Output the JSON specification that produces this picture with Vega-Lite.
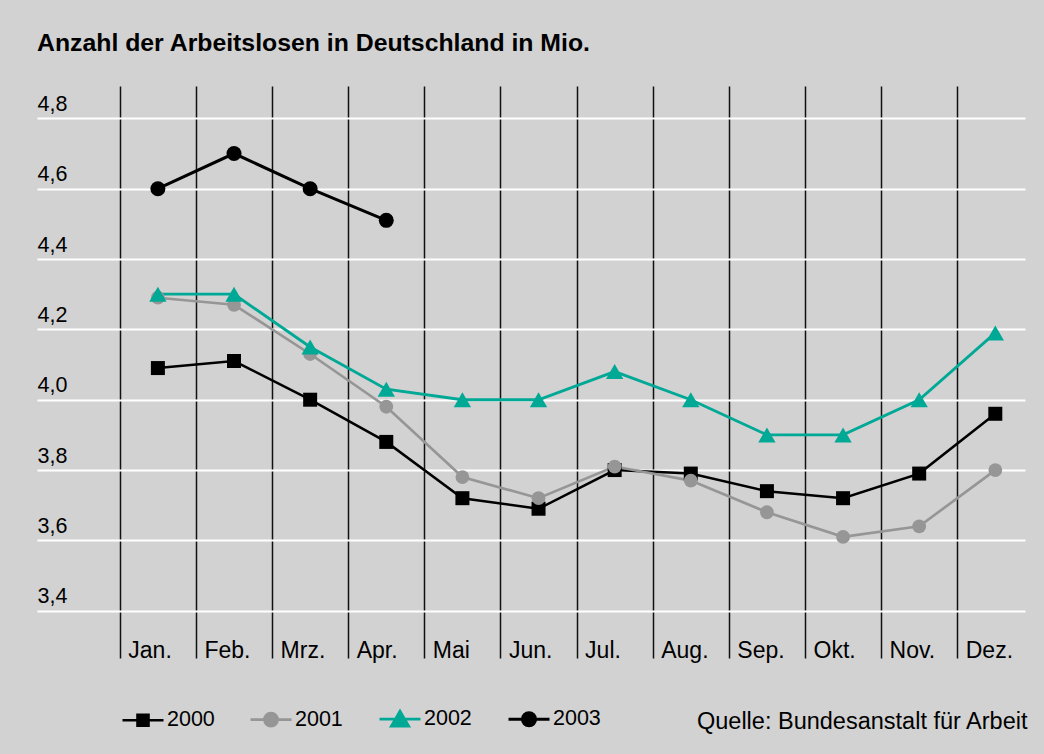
{
  "$schema": "https://vega.github.io/schema/vega-lite/v6.json",
  "width": 988,
  "height": 572,
  "autosize": {"type": "none"},
  "padding": {"left": 37, "top": 86, "right": 19, "bottom": 96},
  "background": "#d2d2d2",
  "title": {
    "text": "Anzahl der Arbeitslosen in Deutschland in Mio.",
    "anchor": "start",
    "frame": "group",
    "font": "Liberation Sans",
    "fontSize": 24.8,
    "fontWeight": "bold",
    "color": "#000000",
    "offset": 30
  },
  "config": {
    "view": {"stroke": null},
    "font": "Liberation Sans"
  },
  "data": {
    "values": [
      {"jahr": "2000", "m": 1, "v": 4.09},
      {"jahr": "2000", "m": 2, "v": 4.11},
      {"jahr": "2000", "m": 3, "v": 4.00},
      {"jahr": "2000", "m": 4, "v": 3.88},
      {"jahr": "2000", "m": 5, "v": 3.72},
      {"jahr": "2000", "m": 6, "v": 3.69},
      {"jahr": "2000", "m": 7, "v": 3.80},
      {"jahr": "2000", "m": 8, "v": 3.79},
      {"jahr": "2000", "m": 9, "v": 3.74},
      {"jahr": "2000", "m": 10, "v": 3.72},
      {"jahr": "2000", "m": 11, "v": 3.79},
      {"jahr": "2000", "m": 12, "v": 3.96},
      {"jahr": "2001", "m": 1, "v": 4.29},
      {"jahr": "2001", "m": 2, "v": 4.27},
      {"jahr": "2001", "m": 3, "v": 4.13},
      {"jahr": "2001", "m": 4, "v": 3.98},
      {"jahr": "2001", "m": 5, "v": 3.78},
      {"jahr": "2001", "m": 6, "v": 3.72},
      {"jahr": "2001", "m": 7, "v": 3.81},
      {"jahr": "2001", "m": 8, "v": 3.77},
      {"jahr": "2001", "m": 9, "v": 3.68},
      {"jahr": "2001", "m": 10, "v": 3.61},
      {"jahr": "2001", "m": 11, "v": 3.64},
      {"jahr": "2001", "m": 12, "v": 3.80},
      {"jahr": "2002", "m": 1, "v": 4.30},
      {"jahr": "2002", "m": 2, "v": 4.30},
      {"jahr": "2002", "m": 3, "v": 4.15},
      {"jahr": "2002", "m": 4, "v": 4.03},
      {"jahr": "2002", "m": 5, "v": 4.00},
      {"jahr": "2002", "m": 6, "v": 4.00},
      {"jahr": "2002", "m": 7, "v": 4.08},
      {"jahr": "2002", "m": 8, "v": 4.00},
      {"jahr": "2002", "m": 9, "v": 3.90},
      {"jahr": "2002", "m": 10, "v": 3.90},
      {"jahr": "2002", "m": 11, "v": 4.00},
      {"jahr": "2002", "m": 12, "v": 4.19},
      {"jahr": "2003", "m": 1, "v": 4.60},
      {"jahr": "2003", "m": 2, "v": 4.70},
      {"jahr": "2003", "m": 3, "v": 4.60},
      {"jahr": "2003", "m": 4, "v": 4.51}
    ]
  },
  "encoding": {
    "x": {
      "field": "m",
      "type": "quantitative",
      "scale": {"domain": [-0.588, 12.39], "nice": false, "zero": false},
      "axis": {
        "values": [0.5, 1.5, 2.5, 3.5, 4.5, 5.5, 6.5, 7.5, 8.5, 9.5, 10.5, 11.5],
        "domain": false,
        "ticks": false,
        "tickSize": 0,
        "grid": true,
        "gridColor": "#111111",
        "gridWidth": 1.5,
        "gridOpacity": 1,
        "labelExpr": "['Jan.','Feb.','Mrz.','Apr.','Mai','Jun.','Jul.','Aug.','Sep.','Okt.','Nov.','Dez.'][floor(datum.value)]",
        "labelAlign": "left",
        "labelBaseline": "alphabetic",
        "labelOffset": 8,
        "labelPadding": -1,
        "labelFlush": false,
        "labelOverlap": false,
        "labelFont": "Liberation Sans",
        "labelFontSize": 23,
        "labelColor": "#000000",
        "title": "Quelle: Bundesanstalt für Arbeit",
        "titleFont": "Liberation Sans",
        "titleFontSize": 23.5,
        "titleFontWeight": "normal",
        "titleColor": "#000000",
        "titleAlign": "right",
        "titleBaseline": "alphabetic",
        "titleAnchor": "end",
        "titleX": 990,
        "titleY": 70
      }
    },
    "y": {
      "field": "v",
      "type": "quantitative",
      "scale": {"domain": [3.2656, 4.892], "nice": false, "zero": false},
      "axis": {
        "values": [3.4, 3.6, 3.8, 4.0, 4.2, 4.4, 4.6, 4.8],
        "domain": false,
        "ticks": false,
        "tickSize": 0,
        "grid": true,
        "gridColor": "#ffffff",
        "gridWidth": 2,
        "gridOpacity": 1,
        "labelExpr": "replace(format(datum.value, '.1f'), '.', ',')",
        "labelAlign": "left",
        "labelBaseline": "alphabetic",
        "labelPadding": 0,
        "labelOffset": -8,
        "labelFlush": false,
        "labelOverlap": false,
        "labelFont": "Liberation Sans",
        "labelFontSize": 21.5,
        "labelColor": "#000000",
        "title": null
      }
    }
  },
  "layer": [
    {
      "mark": {"type": "point", "filled": true, "opacity": 0, "strokeWidth": 2.5},
      "encoding": {
        "fill": {
          "field": "jahr",
          "type": "nominal",
          "scale": {"domain": ["2000", "2001", "2002", "2003"], "range": ["#000000", "#969696", "#00a896", "#000000"]},
          "legend": {
            "title": null,
            "orient": "none",
            "legendX": 84,
            "legendY": 611,
            "direction": "horizontal",
            "padding": 0,
            "labelFont": "Liberation Sans",
            "labelFontSize": 21.5,
            "labelColor": "#000000",
            "labelOffset": 2,
            "columnPadding": 30,
            "symbolSize": 1681,
            "symbolStrokeWidth": 2.5,
            "symbolOpacity": 1
          }
        },
        "stroke": {
          "field": "jahr",
          "type": "nominal",
          "scale": {"domain": ["2000", "2001", "2002", "2003"], "range": ["#000000", "#969696", "#00a896", "#000000"]},
          "legend": {
            "title": null,
            "orient": "none",
            "legendX": 84,
            "legendY": 611,
            "direction": "horizontal",
            "padding": 0,
            "labelFont": "Liberation Sans",
            "labelFontSize": 21.5,
            "labelColor": "#000000",
            "labelOffset": 2,
            "columnPadding": 30,
            "symbolSize": 1681,
            "symbolStrokeWidth": 2.5,
            "symbolOpacity": 1
          }
        },
        "shape": {
          "field": "jahr",
          "type": "nominal",
          "scale": {
            "domain": ["2000", "2001", "2002", "2003"],
            "range": [
              "M-1,0H1M-0.27,-0.27H0.27V0.27H-0.27Z",
              "M-1,0H1M-0.32,0A0.32,0.32,0,1,1,0.32,0A0.32,0.32,0,1,1,-0.32,0Z",
              "M-1,0H1M-0.42,0.34L0,-0.38L0.42,0.34Z",
              "M-1,0H1M-0.32,0A0.32,0.32,0,1,1,0.32,0A0.32,0.32,0,1,1,-0.32,0Z"
            ]
          },
          "legend": {
            "title": null,
            "orient": "none",
            "legendX": 84,
            "legendY": 611,
            "direction": "horizontal",
            "padding": 0,
            "labelFont": "Liberation Sans",
            "labelFontSize": 21.5,
            "labelColor": "#000000",
            "labelOffset": 2,
            "columnPadding": 30,
            "symbolSize": 1681,
            "symbolStrokeWidth": 2.5,
            "symbolOpacity": 1
          }
        }
      }
    },
    {
      "mark": {"type": "line"},
      "encoding": {
        "color": {
          "field": "jahr",
          "type": "nominal",
          "scale": {"domain": ["2000", "2001", "2002", "2003"], "range": ["#000000", "#969696", "#00a896", "#000000"]},
          "legend": null
        },
        "strokeWidth": {
          "field": "jahr",
          "type": "ordinal",
          "scale": {"domain": ["2000", "2001", "2002", "2003"], "range": [2.5, 3, 3, 2.5]},
          "legend": null
        }
      }
    },
    {
      "transform": [{"filter": "datum.jahr === '2000'"}],
      "mark": {"type": "point", "shape": "square", "filled": true, "opacity": 1, "size": 196, "color": "#000000"}
    },
    {
      "transform": [{"filter": "datum.jahr === '2001'"}],
      "mark": {"type": "point", "shape": "circle", "filled": true, "opacity": 1, "size": 190, "color": "#969696"}
    },
    {
      "transform": [{"filter": "datum.jahr === '2002'"}],
      "mark": {"type": "point", "shape": "triangle-up", "filled": true, "opacity": 1, "size": 300, "color": "#00a896"}
    },
    {
      "transform": [{"filter": "datum.jahr === '2003'"}],
      "mark": {"type": "point", "shape": "circle", "filled": true, "opacity": 1, "size": 225, "color": "#000000"}
    }
  ]
}
